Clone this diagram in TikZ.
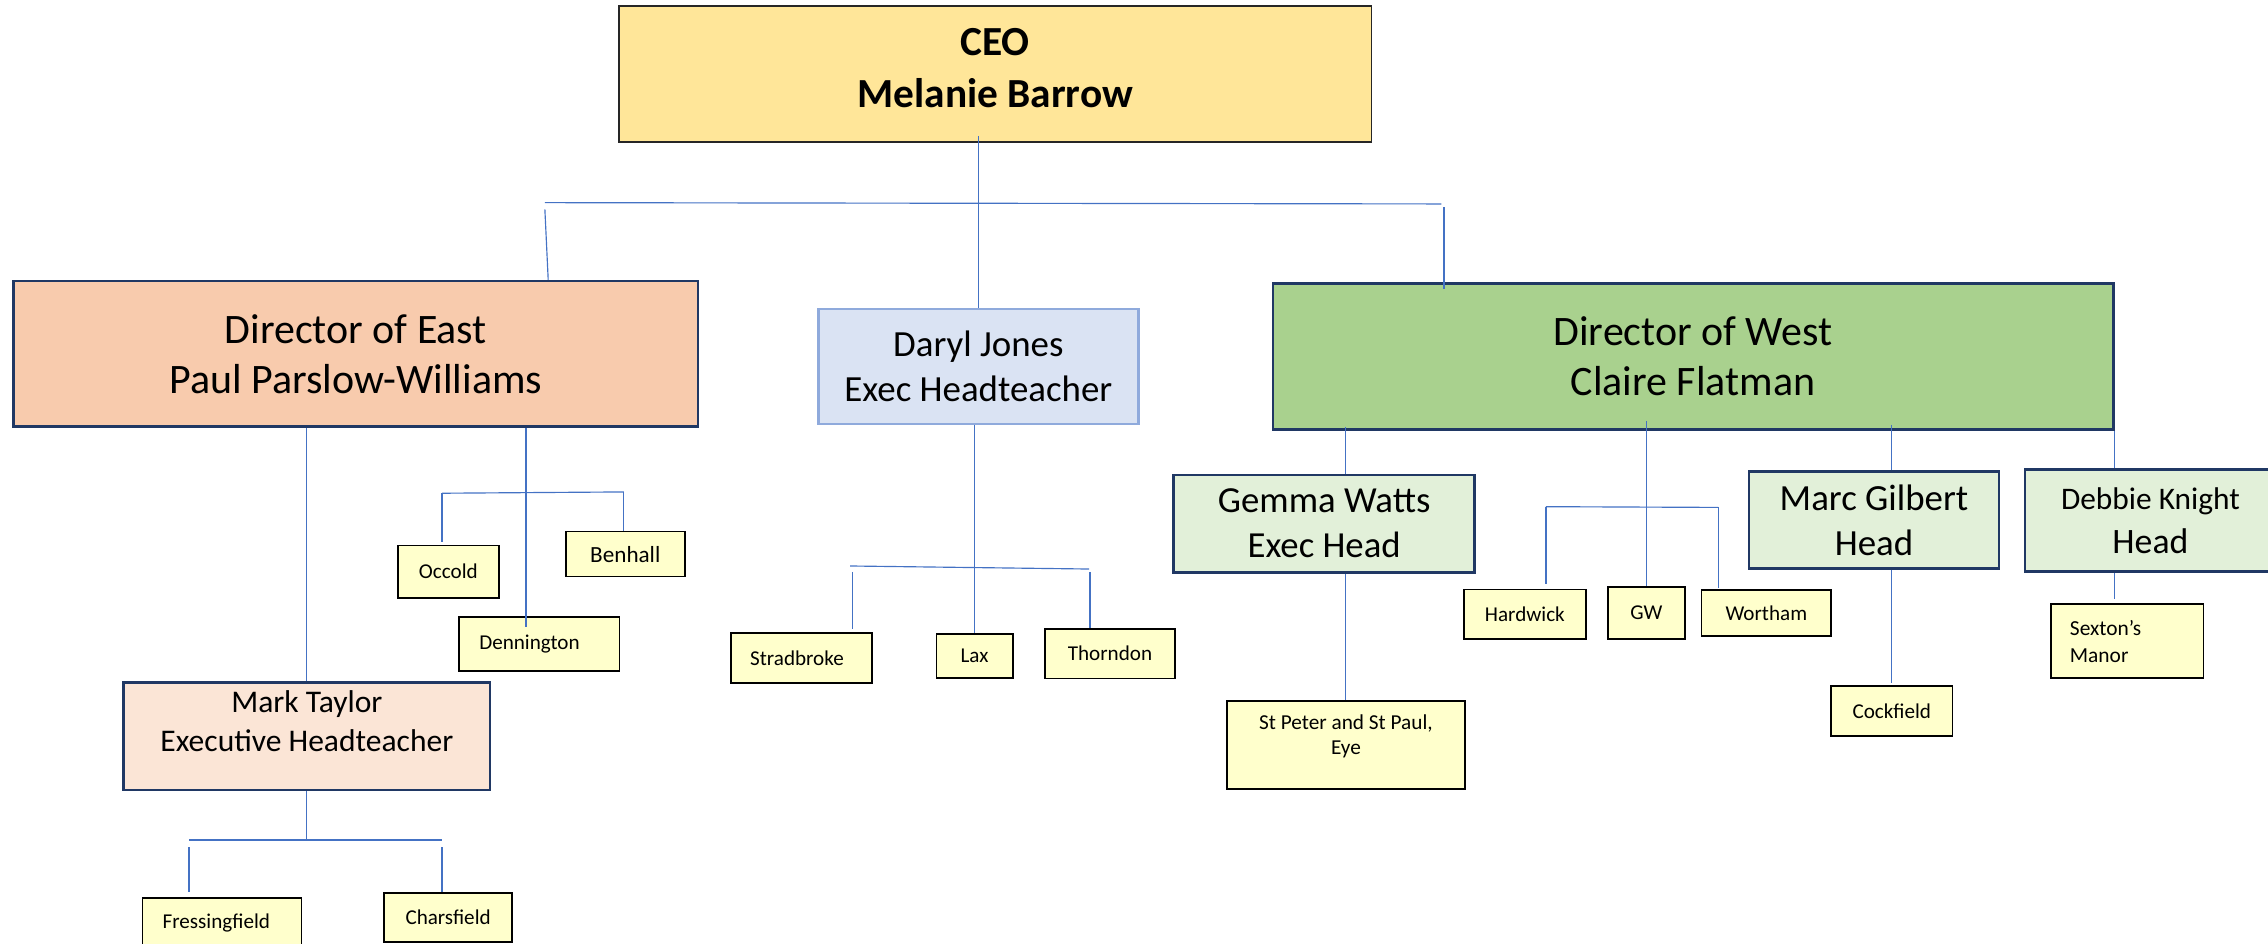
\documentclass[tikz,border=0pt]{standalone}
\usepackage{fontspec}
\setmainfont{Carlito}
\usetikzlibrary{calc}
\definecolor{ceoyellow}{HTML}{FFE699}
\definecolor{eastpeach}{HTML}{F8CBAD}
\definecolor{eastlight}{HTML}{FBE5D6}
\definecolor{westgreen}{HTML}{A9D18E}
\definecolor{westlight}{HTML}{E2F0D9}
\definecolor{midblue}{HTML}{DAE3F3}
\definecolor{midedge}{HTML}{8FAADC}
\definecolor{navy}{HTML}{203864}
\definecolor{schoolfill}{HTML}{FFFFCC}
\definecolor{linkblue}{HTML}{4472C4}

\begin{document}
\begin{tikzpicture}[x=1pt, y=-1pt,
    orgbase/.style={draw, rectangle, align=center, inner sep=2pt},
    ceobox/.style={orgbase, fill=ceoyellow, draw=black!85, line width=1.3pt,
        font=\fontsize{28.6}{36.2}\selectfont\bfseries, text depth=8pt},
    dirbox/.style={orgbase, draw=navy, line width=1.8pt,
        font=\fontsize{29}{34.6}\selectfont},
    headbox/.style={orgbase, fill=westlight, draw=navy, line width=1.8pt,
        font=\fontsize{25.5}{31.1}\selectfont},
    school/.style={orgbase, fill=schoolfill, draw=black, line width=1.2pt,
        font=\fontsize{14.6}{17.8}\selectfont},
    link/.style={draw=linkblue, line width=0.8pt}
]

\useasboundingbox (0,0) rectangle (1568,652);

% --- MACRO: BOX FROM CORNERS ---
% #1: node name
% #2: style
% #3,#4: top left corner
% #5,#6: bottom right corner
% #7: text
\newcommand{\orgBox}[7]{
    \pgfmathsetmacro{\boxW}{#5-#3}
    \pgfmathsetmacro{\boxH}{#6-#4}
    \node[#2, minimum width=\boxW pt, minimum height=\boxH pt] (#1)
        at ({(#3+#5)/2},{(#4+#6)/2}) {#7};
}

% --- TOP ---
\orgBox{ceo}{ceobox}{428}{4.1}{948.2}{97.9}{CEO\\Melanie Barrow}
\orgBox{east}{dirbox, fill=eastpeach}{9.4}{194.3}{482.6}{295}
    {Director of East\\Paul Parslow-Williams}
\orgBox{daryl}{orgbase, fill=midblue, draw=midedge, line width=1.6pt,
    font=\fontsize{25.5}{30.6}\selectfont}{565.8}{213.6}{787}{293.1}
    {Daryl Jones\\Exec Headteacher}
\orgBox{west}{dirbox, fill=westgreen}{880}{196}{1461}{297}
    {Director of West\\Claire Flatman}

% --- EAST ---
\orgBox{mark}{dirbox, fill=eastlight, font=\fontsize{21.8}{26.5}\selectfont,
    text depth=21pt}{85.5}{471.7}{338.8}{546.1}
    {Mark Taylor\\Executive Headteacher}
\orgBox{occold}{school}{275.1}{377.2}{344.8}{413.2}{Occold}
\orgBox{benhall}{school, font=\fontsize{16}{19}\selectfont}{391.1}{367.5}{473.5}{398.6}{Benhall}
\orgBox{denn}{school, align=left, text width=83pt}{317.4}{426.8}{428.3}{463.9}{Dennington}
\orgBox{fress}{school, align=left, text width=82pt}{98.5}{620.8}{208.4}{655}{Fressingfield}
\orgBox{chars}{school}{265.4}{617.5}{354.2}{651.4}{Charsfield}

% --- MIDDLE ---
\orgBox{strad}{school, align=left, text width=71pt}{505.2}{437.7}{603.1}{472}{Stradbroke}
\orgBox{lax}{school}{647.4}{438.4}{700.1}{468.5}{Lax}
\orgBox{thorn}{school}{722.5}{434.9}{812.3}{469}{Thorndon}

% --- WEST ---
\orgBox{gemma}{headbox, font=\fontsize{25.4}{31.1}\selectfont}{811.4}{328.4}{1019.5}{395.7}
    {Gemma Watts\\Exec Head}
\orgBox{marc}{headbox}{1209.3}{326.1}{1381.9}{393}{Marc Gilbert\\Head}
\orgBox{debbie}{headbox, font=\fontsize{24.7}{30.2}\selectfont}{1400}{324.5}{1573.4}{395.2}
    {{\fontsize{21.7}{30.2}\selectfont Debbie Knight}\\Head}
\orgBox{stpeter}{school, font=\fontsize{14.7}{17.3}\selectfont, text depth=14pt}
    {848.4}{484.4}{1012.6}{545.7}{St Peter and St Paul,\\Eye}
\orgBox{hardwick}{school}{1012}{407.5}{1096.4}{441.8}{Hardwick}
\orgBox{gw}{school}{1111.7}{405.6}{1164.9}{441.8}{GW}
\orgBox{wortham}{school}{1176.3}{408}{1266}{439.7}{Wortham}
\orgBox{cock}{school}{1266}{474.3}{1349.8}{508.6}{Cockfield}
\orgBox{sexton}{school, align=left, text width=79pt, font=\fontsize{14.8}{18.4}\selectfont}
    {1417.8}{417.8}{1523.3}{468.9}{Sexton’s\\Manor}

% --- LINES: TOP ---
\coordinate (topL) at (376.7,140.1);
\coordinate (topR) at (996.5,141);
\draw[link] ($(daryl.north |- ceo.south)+(0,-4.6)$) -- (daryl.north);
\draw[link] (topL) -- (topR);
\draw[link] ($(topL)+(0,4.6)$) -- ($(topL |- east.north)+(2.3,0)$);
\draw[link] ($(topR)+(1.8,2.3)$) -- ($(topR |- west.north)+(1.8,4.6)$);

% --- LINES: EAST ---
\coordinate (eHubL) at (305.6,341);
\coordinate (eHub) at (363.6,340.5);
\coordinate (eHubR) at (431.3,340.1);
\draw[link] (mark.north |- east.south) -- (mark.north);
\draw[link] (eHub |- east.south) -- ($(eHub |- denn.north)+(0,7.6)$);
\draw[link] (eHubL) -- (eHubR);
\draw[link] (eHubL) -- ($(eHubL |- occold.north)+(0,-1.6)$);
\draw[link] (eHubR) -- (eHubR |- benhall.north);

\coordinate (mHubL) at (130.7,580.7);
\coordinate (mHubR) at (305.6,580.7);
\draw[link] (mark.south) -- (mark.south |- mHubL);
\draw[link] (mHubL) -- (mHubR);
\draw[link] ($(mHubL)+(0,5)$) -- ($(mHubL |- fress.north)+(0,-3.3)$);
\draw[link] ($(mHubR)+(0,5)$) -- (mHubR |- chars.north);

% --- LINES: MIDDLE ---
\coordinate (dHubL) at (587.7,391.3);
\coordinate (dHubR) at (752.9,393.4);
\draw[link] (lax.north |- daryl.south) -- (lax.north);
\draw[link] (dHubL) -- (dHubR);
\draw[link] ($(dHubL)+(1.8,4)$) -- ($(dHubL |- strad.north)+(1.8,-2)$);
\draw[link] ($(dHubR)+(0.7,2)$) -- ($(dHubR |- thorn.north)+(0.7,0)$);

% --- LINES: WEST ---
\coordinate (wHubL) at (1068.8,350.3);
\coordinate (wHubR) at (1188,350.8);
\draw[link] ($(stpeter.north |- west.south)+(0,-2.5)$) -- (stpeter.north |- gemma.north);
\draw[link] (stpeter.north |- gemma.south) -- (stpeter.north);
\draw[link] ($(gw.north |- west.south)+(0,-7)$) -- (gw.north);
\draw[link] (wHubL) -- (wHubR);
\draw[link] (wHubL) -- ($(wHubL |- hardwick.north)+(0,-3)$);
\draw[link] (wHubR) -- ($(wHubR |- wortham.north)+(0,-1.2)$);
\draw[link] ($(cock.north |- west.south)+(0,-4.3)$) -- (cock.north |- marc.north);
\draw[link] (cock.north |- marc.south) -- ($(cock.north)+(0,-1.8)$);
\draw[link] (west.south east) -- (west.south east |- debbie.north);
\draw[link] (west.south east |- debbie.south) -- ($(west.south east |- sexton.north)+(0,-3)$);

\end{tikzpicture}
\end{document}
